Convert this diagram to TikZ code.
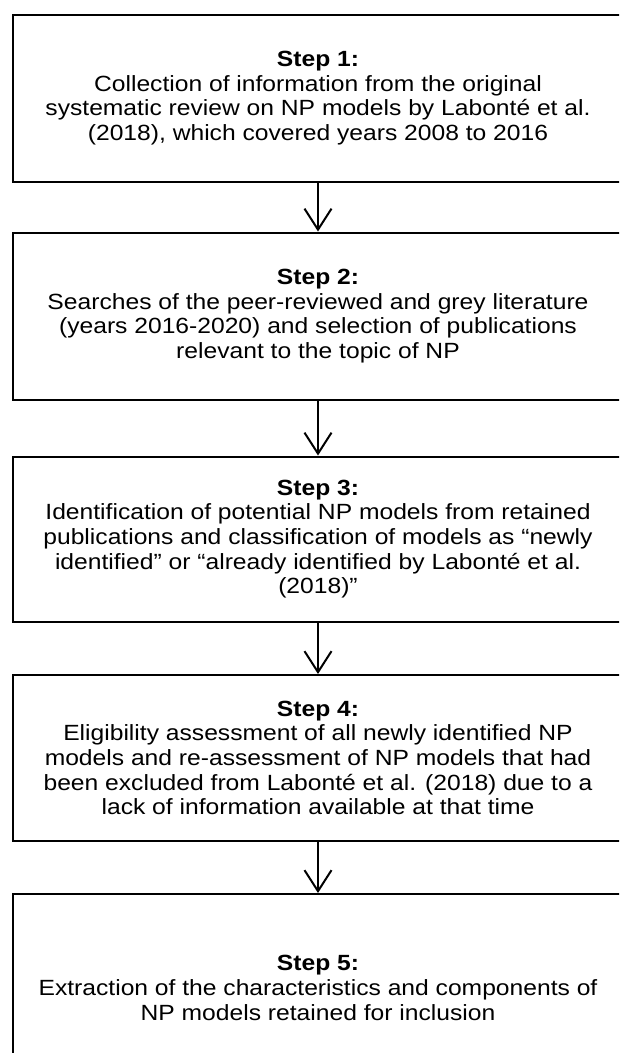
\documentclass[tikz,border=0pt]{standalone}
\usepackage{fontspec}
\setmainfont{Liberation Sans}[FakeStretch=1.12]
\usetikzlibrary{arrows.meta}

\begin{document}
\begin{tikzpicture}[x=1pt, y=-1pt,
	stepbox/.style={draw, line width=2pt, minimum width=610pt, inner sep=0pt, align=center, font=\fontsize{22}{24.7}\selectfont},
	flow/.style={line width=2pt, -{Straight Barb[length=21pt, width=27pt, line width=2pt]}}]
	\useasboundingbox (0,0) rectangle (619,1053);
	\clip (0,0) rectangle (619,1053);

	\node[stepbox, minimum height=167pt] (step1) at (318,98) {\textbf{Step 1:}\\Collection of information from the original\\systematic review on NP models by Labonté et al.\\(2018), which covered years 2008 to 2016};
	\node[stepbox, minimum height=167pt] (step2) at (318,316) {\textbf{Step 2:}\\Searches of the peer-reviewed and grey literature\\(years 2016-2020) and selection of publications\\relevant to the topic of NP};
	\node[stepbox, minimum height=165pt] (step3) at (318,539) {\textbf{Step 3:}\\Identification of potential NP models from retained\\publications and classification of models as “newly\\identified” or “already identified by Labonté et al.\\(2018)”};
	\node[stepbox, minimum height=166pt] (step4) at (318,758) {\textbf{Step 4:}\\Eligibility assessment of all newly identified NP\\models and re-assessment of NP models that had\\been excluded from Labonté et al. (2018) due to a\\lack of information available at that time};
	\node[stepbox, minimum height=188pt] (step5) at (318,988) {\textbf{Step 5:}\\Extraction of the characteristics and components of\\NP models retained for inclusion};

	\draw[flow] (step1) -- (step2);
	\draw[flow] (step2) -- (step3);
	\draw[flow] (step3) -- (step4);
	\draw[flow] (step4) -- (step5);
\end{tikzpicture}
\end{document}
